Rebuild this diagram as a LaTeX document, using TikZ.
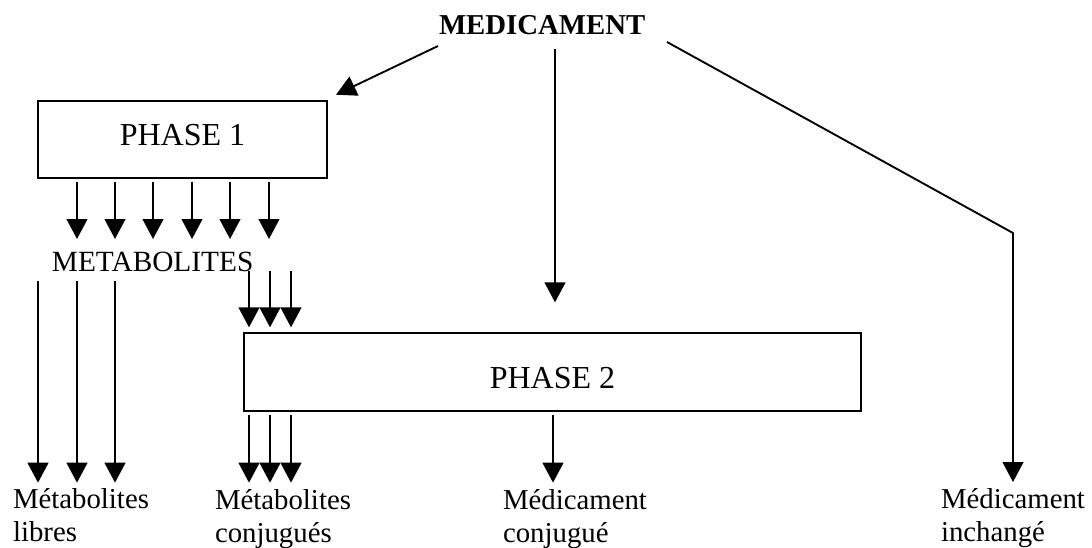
\documentclass[tikz,border=0pt]{standalone}
\usepackage{fontspec}
\setmainfont{Liberation Serif}
\usetikzlibrary{arrows.meta}
\begin{document}
\begin{tikzpicture}[x=0.375pt,y=-0.375pt,
  arr/.style={-{Triangle[length=7.5pt,width=7.8pt]}, line width=0.7pt},
  box/.style={draw, line width=0.8pt, inner sep=0pt, outer sep=0pt, font=\fontsize{12}{14}\selectfont},
  lbl/.style={inner sep=0pt, outer sep=0pt, anchor=base west, font=\fontsize{10.8}{12.4}\selectfont}]
\useasboundingbox (0,0) rectangle (1092,547);
% nodes
\node[inner sep=0pt, outer sep=0pt, anchor=base west, font=\fontsize{10.8}{12}\selectfont\bfseries] (med) at (439,34) {MEDICAMENT};
\node[box, minimum width=108.375pt, minimum height=28.875pt, text height=7.9pt, text depth=3pt] (p1) at (182.5,139.2) {PHASE 1};
\node[lbl, font=\fontsize{11}{12.4}\selectfont] (met) at (52,271) {METABOLITES};
\node[box, minimum width=231.4pt, minimum height=29pt, text height=12.4pt, text depth=0pt] (p2) at (552.5,372) {PHASE 2};
\node[lbl] (ml) at (13,508) {\begin{tabular}[t]{@{}l@{}}Métabolites\\libres\end{tabular}};
\node[lbl] (mc) at (215,509) {\begin{tabular}[t]{@{}l@{}}Métabolites\\conjugués\end{tabular}};
\node[lbl] (mdc) at (503,509) {\begin{tabular}[t]{@{}l@{}}Médicament\\conjugué\end{tabular}};
\node[lbl] (mi) at (941,508) {\begin{tabular}[t]{@{}l@{}}Médicament\\inchangé\end{tabular}};
% horizontal levels tied to the nodes
\path ([yshift=-1.5pt]p1.south) coordinate (p1out)
      ([yshift=12pt]met.base) coordinate (metin)
      ([yshift=-3.75pt]met.base) coordinate (metout)
      ([yshift=2.25pt]p2.north) coordinate (p2in)
      ([yshift=-1.5pt]p2.south) coordinate (p2out)
      ([yshift=9.5pt]ml.base) coordinate (botin);
% connectors from MEDICAMENT
\draw[arr] ([shift={(-1,12)}]med.base west) -- ([shift={(9,-6)}]p1.north east);
\draw[arr] ([shift={(116,15)}]med.base west) -- ([shift={(2.5,-31)}]p2.north);
\draw[arr] ([shift={(228,8)}]med.base west) -- ([shift={(72,-275)}]mi.base west) -- ([shift={(72,-26)}]mi.base west);
% phase 1 -> metabolites
\foreach \x in {77,115,153,192,230,269} {
  \coordinate (c) at (\x,0);
  \draw[arr] (p1out -| c) -- (metin -| c);
}
% metabolites -> libres
\foreach \x in {38,77,115} {
  \coordinate (c) at (\x,0);
  \draw[arr] (metout -| c) -- (botin -| c);
}
% metabolites -> phase 2
\foreach \x in {249,270,291} {
  \coordinate (c) at (\x,0);
  \draw[arr] (met.base -| c) -- (p2in -| c);
}
% phase 2 -> conjugues
\foreach \x in {249,270,291} {
  \coordinate (c) at (\x,0);
  \draw[arr] (p2out -| c) -- (botin -| c);
}
\coordinate (c) at (553,0);
\draw[arr] (p2out -| c) -- (botin -| c);
\end{tikzpicture}
\end{document}
